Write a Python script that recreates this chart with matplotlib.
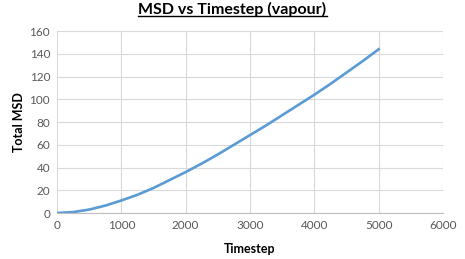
import matplotlib
matplotlib.use('Agg')
import matplotlib.pyplot as plt
from matplotlib.lines import Line2D

# MSD readings (estimated from chart)
timestep = [0, 250, 500, 750, 1000, 1250, 1500, 1750, 2000, 2250, 2500,
            2750, 3000, 3250, 3500, 3750, 4000, 4250, 4500, 4750, 5000]
msd = [0, 0.8, 3, 6.5, 11, 16, 22, 29, 36, 43.5, 51.5,
       60, 68.5, 77, 86, 95, 104, 113.5, 123.5, 133.5, 144]

plt.rcParams['font.family'] = ['Lato', 'DejaVu Sans']

fig = plt.figure(figsize=(4.65, 2.59), dpi=100)
ax = fig.add_axes([0.1226, 0.1776, 0.83, 0.7024])

ax.plot(timestep, msd, color='#5b9bd5', linewidth=1.9)

ax.set_xlim(0, 6000)
ax.set_ylim(0, 160)
ax.set_xticks(range(0, 6001, 1000))
ax.set_yticks(range(0, 161, 20))
ax.grid(True, color='#d9d9d9', linewidth=0.8)
ax.set_axisbelow(True)
ax.tick_params(length=0, labelsize=8.5, labelcolor='#595959', pad=5)
for s in ['top', 'right', 'left']:
    ax.spines[s].set_visible(False)
ax.spines['bottom'].set_color('#bfbfbf')

ax.set_xlabel('Timestep', fontsize=9, fontweight='bold', labelpad=9)
ax.set_ylabel('Total MSD', fontsize=9, fontweight='bold', labelpad=3)

title = fig.text(0.5, 0.962, 'MSD vs Timestep (vapour)', ha='center', va='center',
                 fontsize=11.5, fontweight='bold')

# underline the title
fig.canvas.draw()
bb = title.get_window_extent().transformed(fig.transFigure.inverted())
fig.add_artist(Line2D([bb.x0, bb.x1], [bb.y0 + 0.005, bb.y0 + 0.005],
                      transform=fig.transFigure, color='black', linewidth=1))

fig.savefig('out.png', dpi=100)
